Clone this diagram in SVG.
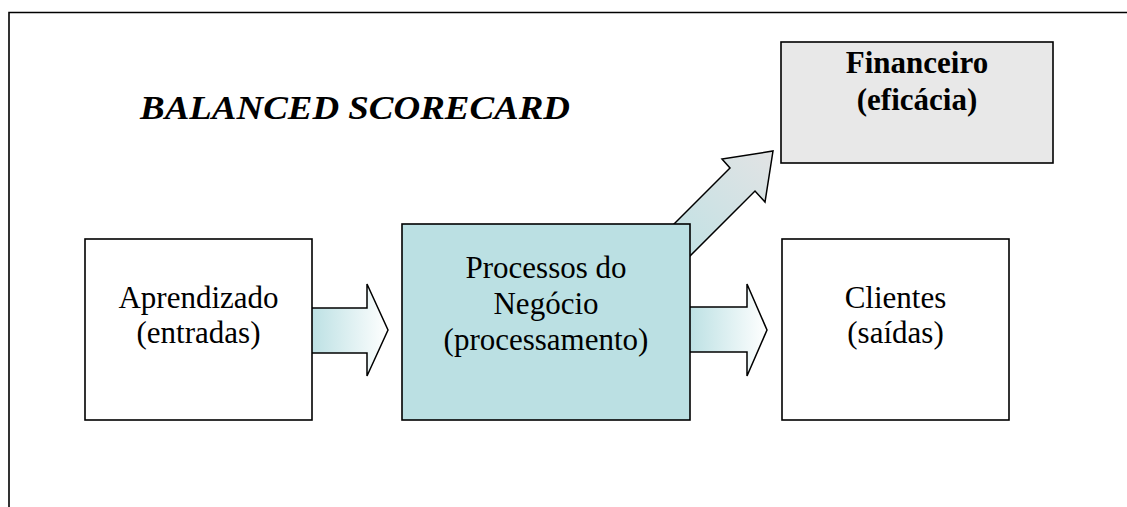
<svg xmlns="http://www.w3.org/2000/svg" width="1127" height="507" viewBox="0 0 1127 507">
<style>
.box{stroke:#000;stroke-width:1.6}
.shadow{fill:none;stroke:#9a9a9a;stroke-width:1}
.t{font-family:"Liberation Serif","Times New Roman",serif;font-size:31px;fill:#000;text-anchor:middle}
.b{font-weight:bold}
.arr{stroke:#000;stroke-width:1.5;stroke-linejoin:miter}
</style>
<defs>
<linearGradient id="gh" x1="0" y1="0" x2="1" y2="0">
<stop offset="0" stop-color="#bde1e4"/>
<stop offset="1" stop-color="#ffffff"/>
</linearGradient>
<linearGradient id="gd" x1="0" y1="1" x2="1" y2="0">
<stop offset="0" stop-color="#bde1e4"/>
<stop offset="1" stop-color="#e2e3e4"/>
</linearGradient>
</defs>
<rect width="1127" height="507" fill="#fff"/>
<path d="M9,507 V12.5 H1127" fill="none" stroke="#000" stroke-width="1.6"/>
<text x="140" y="119" class="t b" style="font-style:italic;font-size:34px;text-anchor:start" textLength="430" lengthAdjust="spacingAndGlyphs">BALANCED SCORECARD</text>
<g id="connectors">
<path class="arr" fill="url(#gd)" d="M660,238 L730,168 L722,159 L773,151 L765,202 L755,191 L685,261 Z"/>
<path class="arr" fill="url(#gh)" d="M312,308 H367 V284 L388,330 L367,376 V353 H312"/>
<path class="arr" fill="url(#gh)" d="M690,307 H747 V284 L767,330 L747,376 V352 H690"/>
</g>
<g id="aprendizado">
<rect x="85" y="239" width="227" height="181" fill="#fff" class="box"/>
<text class="t"><tspan x="198.5" y="308">Aprendizado</tspan><tspan x="198.5" y="343">(entradas)</tspan></text>
</g>
<g id="processos">
<rect x="402" y="224" width="288" height="196" fill="#bbe0e3" class="box"/>
<text class="t"><tspan x="546" y="278">Processos do</tspan><tspan x="546" y="314">Negócio</tspan><tspan x="546" y="350">(processamento)</tspan></text>
</g>
<g id="clientes">
<rect x="782" y="239" width="227" height="181" fill="#fff" class="box"/>
<text class="t"><tspan x="895.5" y="308">Clientes</tspan><tspan x="895.5" y="343">(saídas)</tspan></text>
</g>
<g id="financeiro">
<rect x="781" y="42" width="272" height="121" fill="#e8e8e8" class="box"/>
<text class="t b"><tspan x="917" y="73">Financeiro</tspan><tspan x="917" y="110">(eficácia)</tspan></text>
</g>
</svg>
